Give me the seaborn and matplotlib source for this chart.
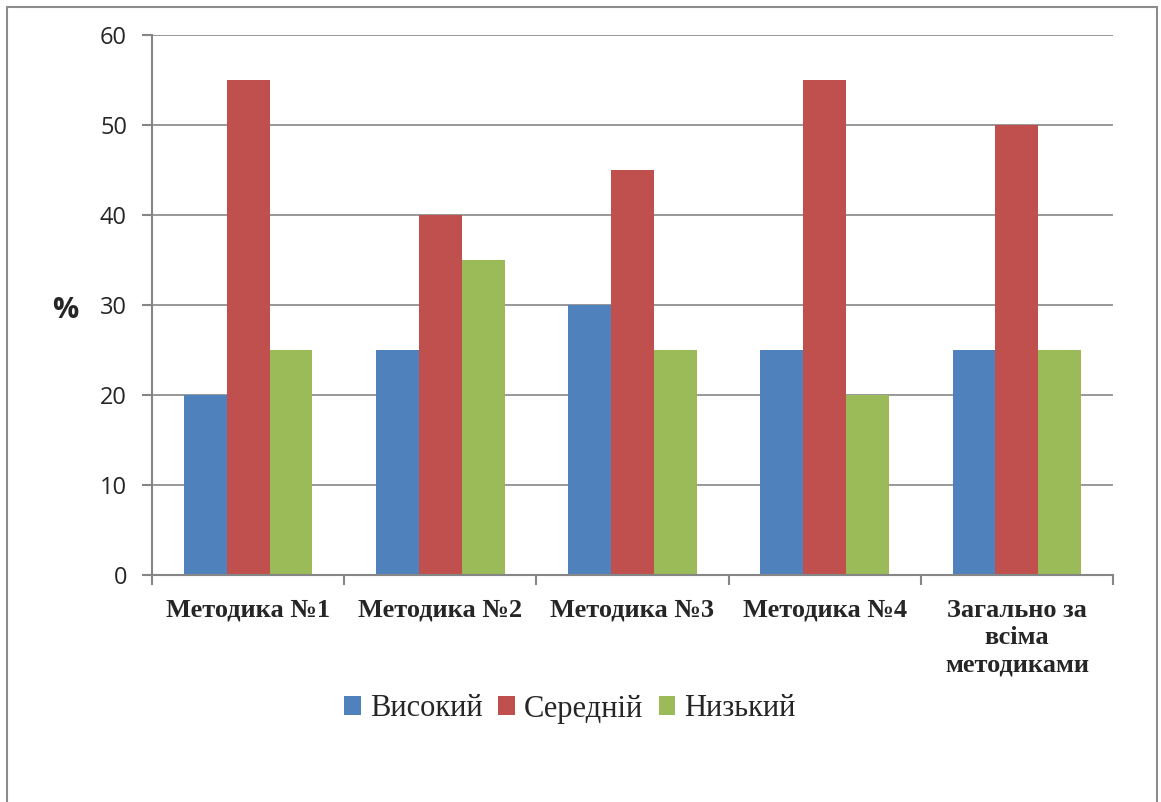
import matplotlib
matplotlib.use("Agg")
import matplotlib.pyplot as plt
import matplotlib.patches as mpatches
import seaborn as sns
import pandas as pd
import numpy as np

categories = ["Методика №1", "Методика №2", "Методика №3", "Методика №4",
              "Загально за\nвсіма\nметодиками"]
levels = ["Високий", "Середній", "Низький"]
high = [20, 25, 30, 25, 25]
mid = [55, 40, 45, 55, 50]
low = [25, 35, 25, 20, 25]
y_ticks = [0, 10, 20, 30, 40, 50, 60]
colors = ["#4F81BD", "#C0504D", "#9BBB59"]

rows = []
for lvl, vals in zip(levels, [high, mid, low]):
    for cat, v in zip(categories, vals):
        rows.append({"cat": cat, "level": lvl, "val": v})
df = pd.DataFrame(rows)

sns.set_style("white")
fig = plt.figure(figsize=(11.61, 8.02), dpi=100)
ax = fig.add_axes([152 / 1161, 1 - 575 / 802, (1113 - 152) / 1161, (575 - 35) / 802])

sns.barplot(data=df, x="cat", y="val", hue="level", order=categories,
            hue_order=levels, palette=colors, width=0.67, saturation=1,
            edgecolor="none", linewidth=0, ax=ax, legend=False)

grid_col = "#868686"
ax.set_ylim(0, 60)
ax.set_xlim(-0.5, len(categories) - 0.5)
ax.set_yticks(y_ticks)
ax.set_yticklabels([str(t) for t in y_ticks], fontsize=17, family="Open Sans")
ax.yaxis.grid(True, color=grid_col, linewidth=1.2)
ax.set_axisbelow(True)
for s in ["top", "right"]:
    ax.spines[s].set_visible(False)
for s in ["left", "bottom"]:
    ax.spines[s].set_color(grid_col)
    ax.spines[s].set_linewidth(1.5)
ax.tick_params(axis="y", length=7, width=1.5, color=grid_col, pad=11, left=True)

# category labels centred, tick marks at the group boundaries
ax.set_xticks(range(len(categories)))
ax.set_xticklabels(categories, fontsize=19, fontweight="bold",
                   family="Liberation Serif", linespacing=1.25, va="top")
ax.tick_params(axis="x", length=0, pad=17)
ax.set_xticks(np.arange(-0.5, len(categories)), minor=True)
ax.tick_params(axis="x", which="minor", length=7, width=1.5, color=grid_col, bottom=True)
ax.set_xlabel("")
ax.set_ylabel("")

fig.text(65 / 1161, 1 - 310 / 802, "%", fontsize=21, fontweight="bold",
         family="Open Sans", ha="center", va="center")

handles = [mpatches.Patch(facecolor=c, edgecolor="none", label=l)
           for c, l in zip(colors, levels)]
fig.legend(handles=handles, loc="center", bbox_to_anchor=(570 / 1161, 1 - 709 / 802),
           ncol=3, frameon=False, prop={"family": "Liberation Serif", "size": 22},
           handlelength=0.55, handleheight=0.55, handletextpad=0.3, columnspacing=0.5)

# chart border
fig.patches.append(mpatches.Rectangle((7 / 1161, -0.05), (1157 - 7) / 1161, 1.05 - 7 / 802,
                                      transform=fig.transFigure, fill=False,
                                      edgecolor="#8c8c8c", linewidth=1.5))

fig.savefig("out.png", dpi=100)
